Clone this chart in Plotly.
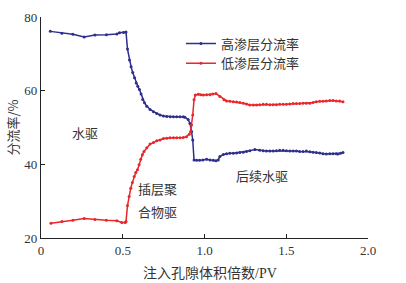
import plotly.graph_objects as go

# data
high_x = [0.057, 0.128, 0.195, 0.264, 0.33, 0.40, 0.464, 0.48, 0.505, 0.52,
          0.529, 0.541, 0.551, 0.561, 0.572, 0.582, 0.592, 0.602, 0.612, 0.622,
          0.633, 0.647, 0.667, 0.688, 0.708, 0.728, 0.749, 0.769, 0.79, 0.81,
          0.83, 0.85, 0.87, 0.88, 0.90, 0.911, 0.921, 0.928, 0.936, 0.952,
          0.97, 0.99, 1.013, 1.034, 1.054, 1.07, 1.084, 1.094, 1.115, 1.135,
          1.155, 1.176, 1.196, 1.216, 1.237, 1.257, 1.277, 1.308, 1.338, 1.359,
          1.379, 1.40, 1.42, 1.44, 1.46, 1.481, 1.501, 1.522, 1.542, 1.562,
          1.582, 1.603, 1.623, 1.644, 1.664, 1.684, 1.705, 1.725, 1.745, 1.766,
          1.786, 1.806, 1.817, 1.832, 1.847]
high_y = [76.1, 75.6, 75.3, 74.6, 75.1, 75.2, 75.4, 75.7, 75.8, 75.9,
          71.3, 68.3, 66.5, 64.9, 63.5, 62.1, 61.2, 60.3, 59.1, 57.6,
          56.7, 55.8, 54.9, 54.3, 53.8, 53.4, 53.1, 53.0, 52.9, 52.9,
          52.9, 52.9, 52.9, 52.8, 52.2, 51.1, 48.9, 46.6, 41.2, 41.1,
          41.1, 41.2, 41.4, 41.2, 41.1, 41.0, 41.2, 42.1, 42.7, 42.9,
          43.0, 43.0, 43.1, 43.2, 43.3, 43.5, 43.7, 44.0, 43.8, 43.7,
          43.6, 43.6, 43.6, 43.7, 43.8, 43.8, 43.7, 43.6, 43.6, 43.6,
          43.5, 43.5, 43.6, 43.4, 43.3, 43.2, 43.1, 42.9, 42.8, 42.9,
          42.9, 42.9, 42.8, 43.0, 43.2]

low_x = [0.061, 0.128, 0.195, 0.264, 0.33, 0.40, 0.464, 0.494, 0.515, 0.52,
         0.529, 0.539, 0.549, 0.559, 0.57, 0.58, 0.59, 0.60, 0.61, 0.62,
         0.63, 0.647, 0.667, 0.688, 0.708, 0.728, 0.749, 0.769, 0.789, 0.81,
         0.83, 0.85, 0.87, 0.89, 0.907, 0.915, 0.921, 0.928, 0.936, 0.944,
         0.962, 0.977, 0.993, 1.013, 1.033, 1.05, 1.07, 1.094, 1.119, 1.135,
         1.155, 1.176, 1.196, 1.216, 1.237, 1.257, 1.277, 1.298, 1.318, 1.338,
         1.359, 1.379, 1.40, 1.42, 1.44, 1.46, 1.481, 1.501, 1.522, 1.542,
         1.562, 1.582, 1.603, 1.623, 1.644, 1.664, 1.684, 1.705, 1.725, 1.745,
         1.766, 1.786, 1.806, 1.827, 1.847]
low_y = [24.0, 24.5, 24.8, 25.3, 25.0, 24.8, 24.7, 24.2, 24.2, 24.5,
         28.8, 31.3, 33.5, 35.1, 36.7, 37.8, 38.5, 39.9, 41.4, 42.6,
         43.5, 44.5, 45.5, 45.9, 46.4, 46.6, 47.0, 47.1, 47.2, 47.2,
         47.2, 47.2, 47.3, 47.5, 48.2, 48.9, 50.7, 53.4, 57.5, 58.8,
         59.0, 58.9, 58.8, 58.9, 58.9, 59.1, 59.2, 58.4, 57.5, 57.2,
         57.1, 57.0, 56.9, 56.8, 56.6, 56.4, 56.1, 56.1, 56.1, 56.2,
         56.3, 56.3, 56.2, 56.2, 56.2, 56.3, 56.3, 56.3, 56.4, 56.5,
         56.5, 56.5, 56.6, 56.6, 56.6, 56.8, 57.0, 57.1, 57.1, 57.2,
         57.3, 57.3, 57.2, 57.2, 57.0]

series_names = ["高渗层分流率", "低渗层分流率"]
x_ticks = [0, 0.5, 1.0, 1.5, 2.0]
x_tick_labels = ["0", "0.5", "1.0", "1.5", "2.0"]
y_ticks = [20, 40, 60, 80]

cjk = "Noto Sans CJK SC"
serif = "Liberation Serif"
mixed = "Liberation Serif, Noto Sans CJK SC"
txt = "#333"
blue = "#2E2E8E"
red = "#E8272B"

fig = go.Figure()
fig.add_trace(go.Scatter(x=high_x, y=high_y, name=series_names[0], mode="lines+markers",
                         line=dict(color=blue, width=1.5), marker=dict(color=blue, size=3)))
fig.add_trace(go.Scatter(x=low_x, y=low_y, name=series_names[1], mode="lines+markers",
                         line=dict(color=red, width=1.5), marker=dict(color=red, size=3)))

axis_common = dict(showline=True, linecolor="#222", linewidth=1.2, ticks="inside",
                   ticklen=4, tickcolor="#222", showgrid=False, zeroline=False,
                   automargin=False,
                   tickfont=dict(family=serif, size=13, color=txt))
fig.update_xaxes(range=[0, 2.0], tickvals=x_ticks, ticktext=x_tick_labels, **axis_common)
fig.update_yaxes(range=[20, 80], tickvals=y_ticks, **axis_common)

ann_font = dict(family=cjk, size=13, color=txt)
fig.update_layout(
    width=406, height=283,
    margin=dict(l=41, r=38, t=17, b=45),
    plot_bgcolor="white", paper_bgcolor="white",
    showlegend=True,
    legend=dict(x=0.428, y=0.948, xanchor="left", yanchor="top", itemwidth=30,
                font=dict(family=cjk, size=13, color=txt), bgcolor="rgba(0,0,0,0)",
                tracegroupgap=0),
    annotations=[
        dict(x=0, y=0.5, xref="paper", yref="paper", text="分流率/%", textangle=-90,
             showarrow=False, xanchor="center", yanchor="middle", xshift=-29,
             font=ann_font),
        dict(x=0.5, y=0, xref="paper", yref="paper", text="注入孔隙体积倍数/PV",
             showarrow=False, xanchor="center", yanchor="middle", xshift=5, yshift=-35,
             font=dict(family=mixed, size=14, color=txt)),
        dict(x=0.27, y=48.7, text="水驱", showarrow=False, font=ann_font),
        dict(x=0.714, y=33.5, text="插层聚", showarrow=False, font=ann_font),
        dict(x=0.714, y=27.3, text="合物驱", showarrow=False, font=ann_font),
        dict(x=1.352, y=37.1, text="后续水驱", showarrow=False, font=ann_font),
    ],
)

fig.write_html("out.html", config={"displayModeBar": False},
               post_script="document.body.style.margin='0';document.body.style.overflow='hidden';")
